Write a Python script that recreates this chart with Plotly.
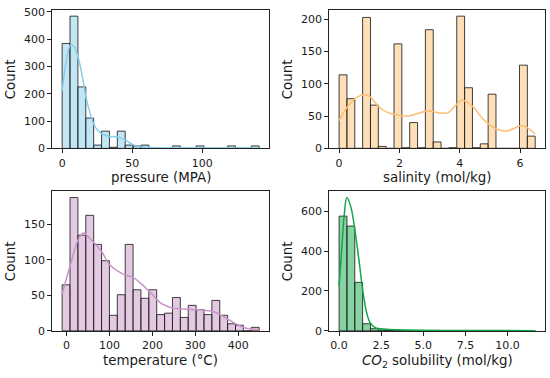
import numpy as np
import plotly.graph_objects as go

# ---------------- data ----------------
N_BINS = 25

pressure_range = [0.0, 140.5]
pressure_counts = [384, 484, 225, 111, 12, 63, 4, 63, 12, 9, 12, 2, 1, 0, 9, 0, 0, 9, 0, 0, 0, 9, 0, 0, 9]
pressure_kde_x = [0, 3, 6, 8.5, 11.7, 14.5, 17.1, 20, 22.4, 25, 27.9, 33, 39.5, 45.2, 50.9, 57, 63, 75, 90, 110, 125, 140.5]
pressure_kde_y = [211, 320, 378, 372, 327, 260, 185, 128, 90, 68, 55, 44, 42, 30, 13, 6, 3, 2, 2, 1, 1, 1]

salinity_range = [0.0, 6.5]
salinity_counts = [114, 77, 0, 203, 67, 3, 0, 162, 1, 40, 1, 184, 10, 0, 1, 205, 94, 1, 7, 84, 0, 0, 0, 129, 19]
salinity_kde_x = [0, 0.25, 0.5, 0.8, 1.0, 1.31, 1.55, 1.8, 2.24, 2.6, 2.9, 3.1, 3.34, 3.6, 3.85, 4.06, 4.45, 4.78, 5.22, 5.55, 5.8, 6.0, 6.21, 6.5]
salinity_kde_y = [43, 63, 76, 83, 81, 65, 57, 53, 50, 54, 58, 57, 55, 55, 66, 75, 64, 45, 30, 27, 31, 35, 33, 22]

temperature_range = [-10.0, 448.5]
temperature_counts = [65, 188, 135, 163, 122, 99, 22, 51, 122, 58, 46, 58, 23, 25, 47, 19, 36, 30, 23, 43, 22, 10, 8, 0, 5]
temperature_kde_x = [-10, 10, 27, 39, 55, 81.7, 99.6, 132, 155.6, 171, 202, 218, 237, 249, 270, 296, 320, 342.5, 366, 397, 416.6, 448.5]
temperature_kde_y = [52, 95, 128, 138, 130, 112, 94, 80, 75, 68, 50, 40, 34, 32, 31, 30, 29, 27, 20, 9, 4, 2]

co2_range = [0.0, 11.64]
co2_counts = [575, 525, 243, 36, 11, 4, 2, 1, 1, 0, 1, 0, 0, 0, 0, 0, 0, 0, 0, 0, 0, 0, 0, 0, 1]
co2_kde_x = [0, 0.16, 0.3, 0.46, 0.7, 0.95, 1.21, 1.4, 1.64, 1.84, 2.14, 2.83, 3.8, 5, 7, 9, 11.64]
co2_kde_y = [223, 415, 578, 668, 620, 497, 334, 204, 90, 41, 16, 8, 5, 3, 2, 2, 1]

pressure_ticks = [0, 50, 100]
pressure_yticks = [0, 100, 200, 300, 400, 500]
salinity_ticks = [0, 2, 4, 6]
salinity_yticks = [0, 50, 100, 150, 200]
temperature_ticks = [0, 100, 200, 300, 400]
temperature_yticks = [0, 50, 100, 150]
co2_ticks = [0.0, 2.5, 5.0, 7.5, 10.0]
co2_ticklabels = ["0.0", "2.5", "5.0", "7.5", "10.0"]
co2_yticks = [0, 200, 400, 600]

x_titles = ["pressure (MPA)", "salinity (mol/kg)", "temperature (°C)",
            "<i>CO</i><sub>2</sub> solubility (mol/kg)"]

# ---------------- layout geometry (pixels) ----------------
W, H = 550, 378
cols = [(52.3, 269.0), (329.3, 545.0)]
rows = [(5.7, 148.7), (192.5, 336.7)]

FONT = "DejaVu Sans"
TXT = "#1a1a1a"
EDGE = "rgba(30,30,30,0.85)"

panels = [
    dict(rng=pressure_range, counts=pressure_counts, kx=pressure_kde_x, ky=pressure_kde_y,
         color=(135, 206, 235), xt=pressure_ticks, xl=None, yt=pressure_yticks, r=0, c=0),
    dict(rng=salinity_range, counts=salinity_counts, kx=salinity_kde_x, ky=salinity_kde_y,
         color=(253, 191, 111), xt=salinity_ticks, xl=None, yt=salinity_yticks, r=0, c=1),
    dict(rng=temperature_range, counts=temperature_counts, kx=temperature_kde_x, ky=temperature_kde_y,
         color=(201, 148, 199), xt=temperature_ticks, xl=None, yt=temperature_yticks, r=1, c=0),
    dict(rng=co2_range, counts=co2_counts, kx=co2_kde_x, ky=co2_kde_y,
         color=(16, 166, 72), xt=co2_ticks, xl=co2_ticklabels, yt=co2_yticks, r=1, c=1),
]

fig = go.Figure()
annotations = []

for i, p in enumerate(panels):
    n = i + 1
    xa = "x" if n == 1 else f"x{n}"
    ya = "y" if n == 1 else f"y{n}"
    edges = np.linspace(p["rng"][0], p["rng"][1], N_BINS + 1)
    centers = (edges[:-1] + edges[1:]) / 2
    width = edges[1] - edges[0]
    r, g, b = p["color"]
    fig.add_trace(go.Bar(
        x=centers, y=p["counts"], width=width, xaxis=xa, yaxis=ya,
        marker=dict(color=f"rgba({r},{g},{b},0.5)", line=dict(color=EDGE, width=1)),
        showlegend=False, hoverinfo="skip"))
    fig.add_trace(go.Scatter(
        x=p["kx"], y=p["ky"], xaxis=xa, yaxis=ya, mode="lines",
        line=dict(color=f"rgb({r},{g},{b})", width=1.5, shape="spline", smoothing=1.0),
        showlegend=False, hoverinfo="skip"))

    x0, x1 = cols[p["c"]]
    y0, y1 = rows[p["r"]]
    lo, hi = p["rng"]
    span = hi - lo
    ymax = 1.05 * max(max(p["counts"]), max(p["ky"]))
    axis_common = dict(showgrid=False, zeroline=False, showline=True, mirror=True,
                       linecolor="#222", linewidth=1, ticks="outside", ticklen=4,
                       tickwidth=1, tickcolor="#222",
                       tickfont=dict(family=FONT, size=11, color=TXT))
    xkw = dict(axis_common, domain=[x0 / W, x1 / W], anchor=ya,
               range=[lo - 0.05 * span, hi + 0.05 * span],
               tickmode="array", tickvals=p["xt"])
    if p["xl"] is not None:
        xkw["ticktext"] = p["xl"]
    ykw = dict(axis_common, domain=[1 - y1 / H, 1 - y0 / H], anchor=xa,
               range=[0, ymax], tickmode="array", tickvals=p["yt"])
    fig.update_layout({("xaxis" if n == 1 else f"xaxis{n}"): xkw,
                       ("yaxis" if n == 1 else f"yaxis{n}"): ykw})

    annotations.append(dict(text=x_titles[i], xref="paper", yref="paper",
                            x=(x0 + x1) / 2 / W, y=1 - (y1 + 20.5) / H,
                            xanchor="center", yanchor="top", showarrow=False,
                            font=dict(family=FONT, size=13.4, color=TXT)))
    annotations.append(dict(text="Count", xref="paper", yref="paper",
                            x=(x0 - 41) / W, y=1 - (y0 + y1) / 2 / H,
                            xanchor="center", yanchor="middle", showarrow=False,
                            textangle=-90,
                            font=dict(family=FONT, size=13.4, color=TXT)))

fig.update_layout(width=W, height=H, margin=dict(l=0, r=0, t=0, b=0),
                  paper_bgcolor="white", plot_bgcolor="white",
                  bargap=0, annotations=annotations)

fig.write_html("out.html", config={"displayModeBar": False, "staticPlot": True},
               post_script="document.body.style.margin='0px';document.body.style.padding='0px';")
